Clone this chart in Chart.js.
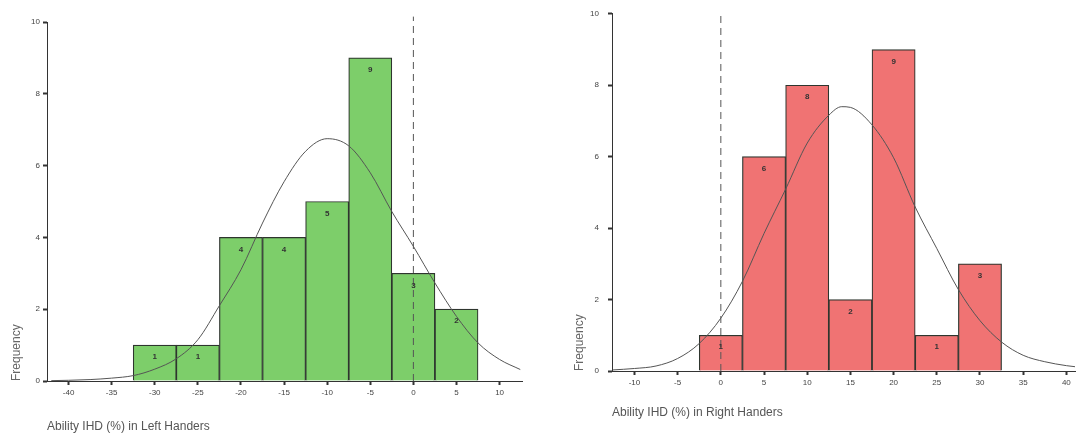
<!DOCTYPE html>
<html>
<head>
<meta charset="utf-8">
<script src="https://cdn.jsdelivr.net/npm/chart.js@4.4.1/dist/chart.umd.min.js"></script>
<style>
  body { margin: 0; background: #fff; }
  #wrap { position: relative; width: 1077px; height: 436px; }
  canvas { position: absolute; top: 0; }
  #left { left: 0; }
  #right { left: 540px; }
</style>
</head>
<body>
<div id="wrap">
  <canvas id="left" width="540" height="436"></canvas>
  <canvas id="right" width="537" height="436"></canvas>
</div>
<script>
// left handers: bin centres (%) and frequencies
const leftBins = [-30, -25, -20, -15, -10, -5, 0, 5];
const leftCounts = [1, 1, 4, 4, 5, 9, 3, 2];
// fitted normal curve
const leftCurveX = [-42, -40, -37.5, -35, -32.5, -30, -27.5, -25, -22.5, -20, -17.5, -15, -12.5, -10, -7.5, -5, -2.5, 0, 2.5, 5, 7.5, 10, 12.4];
const leftCurveY = [0.01, 0.02, 0.04, 0.08, 0.15, 0.33, 0.62, 1.15, 2.1, 3.1, 4.4, 5.55, 6.4, 6.75, 6.55, 5.8, 4.72, 3.75, 2.73, 1.8, 1.06, 0.6, 0.32];

// right handers
const rightBins = [0, 5, 10, 15, 20, 25, 30];
const rightCounts = [1, 6, 8, 2, 9, 1, 3];
const rightCurveX = [-12.5, -10, -7.5, -5, -2.5, 0, 2.5, 5, 7.5, 10, 12.5, 14, 15, 17.5, 20, 22.5, 25, 27.5, 30, 32.5, 35, 37.5, 40, 41];
const rightCurveY = [0.03, 0.07, 0.14, 0.35, 0.77, 1.48, 2.51, 3.85, 5.09, 6.38, 7.16, 7.4, 7.38, 6.89, 5.97, 4.59, 3.43, 2.28, 1.41, 0.81, 0.44, 0.26, 0.15, 0.12];

const yTicks = [0, 2, 4, 6, 8, 10];
const FONT = "'Liberation Sans', Arial, sans-serif";

// writes the count near the top of each bar
const barLabels = {
  id: "barLabels",
  afterDatasetsDraw(chart) {
    const ctx = chart.ctx;
    chart.data.datasets.forEach((ds, i) => {
      if (ds.type !== "bar") return;
      const meta = chart.getDatasetMeta(i);
      ctx.save();
      ctx.font = "bold 8px " + FONT;
      ctx.fillStyle = "#333";
      ctx.textAlign = "center";
      ctx.textBaseline = "middle";
      meta.data.forEach((bar, j) => {
        ctx.fillText(ds.data[j].y, bar.x, bar.y + 12);
      });
      ctx.restore();
    });
  }
};

function makeHist(id, bins, counts, curveX, curveY, o) {
  const ctx = document.getElementById(id).getContext("2d");
  return new Chart(ctx, {
    type: "bar",
    data: {
      datasets: [
        {
          type: "line",
          data: curveX.map((x, i) => ({ x: x, y: curveY[i] })),
          borderColor: "#555",
          borderWidth: 1,
          pointRadius: 0,
          cubicInterpolationMode: "monotone",
          order: 0
        },
        {
          type: "line",
          data: [{ x: 0, y: 0 }, { x: 0, y: o.dashTop }],
          borderColor: "#555",
          borderWidth: 1,
          borderDash: [7, 5],
          pointRadius: 0,
          clip: false,
          order: 0
        },
        {
          type: "bar",
          data: bins.map((b, i) => ({ x: b, y: counts[i] })),
          backgroundColor: o.fill,
          borderColor: "#2e352e",
          borderWidth: 1.2,
          barPercentage: 1,
          categoryPercentage: 1,
          order: 1
        }
      ]
    },
    options: {
      responsive: false,
      animation: false,
      layout: { padding: o.padding },
      plugins: { legend: { display: false }, tooltip: { enabled: false } },
      scales: {
        x: {
          type: "linear",
          offset: false,
          min: o.xMin,
          max: o.xMax,
          afterFit: s => { s.height = o.xHeight; },
          border: { display: true, color: "#333", width: 1 },
          grid: { drawOnChartArea: false, offset: false, tickLength: 4, tickWidth: 2, tickColor: "#333" },
          ticks: {
            stepSize: 5, includeBounds: false, autoSkip: false, maxRotation: 0, padding: 3,
            color: "#444", font: { family: FONT, size: 8 }
          },
          title: {
            display: true, text: o.xTitle, align: "start", color: "#555",
            font: { family: FONT, size: 12 }, padding: { top: 0, bottom: o.xTitlePad }
          }
        },
        y: {
          min: 0,
          max: 10,
          afterFit: s => { s.width = 40; },
          afterBuildTicks: s => { s.ticks = yTicks.map(v => ({ value: v })); },
          border: { display: true, color: "#333", width: 1 },
          grid: { drawOnChartArea: false, tickLength: 4, tickWidth: 2, tickColor: "#333" },
          ticks: { padding: o.yTickPad, color: "#444", font: { family: FONT, size: 8 } },
          title: {
            display: true, text: "Frequency", align: "start", color: "#666",
            font: { family: FONT, size: 12 }, padding: { top: o.yTitlePad, bottom: 0 }
          }
        }
      }
    },
    plugins: [barLabels]
  });
}

makeHist("left", leftBins, leftCounts, leftCurveX, leftCurveY, {
  fill: "#7dce6a",
  dashTop: 10.15,
  xMin: -42.5, xMax: 12.6,
  padding: { left: 7, top: 22, right: 18, bottom: 0 },
  xHeight: 55, xTitlePad: 2, yTitlePad: 2, yTickPad: 3,
  xTitle: "Ability IHD (%) in Left Handers"
});

makeHist("right", rightBins, rightCounts, rightCurveX, rightCurveY, {
  fill: "#f07373",
  dashTop: 10,
  xMin: -12.6, xMax: 41,
  padding: { left: 32, top: 9, right: 2, bottom: 0 },
  xHeight: 65, xTitlePad: 16, yTitlePad: 0, yTickPad: 9,
  xTitle: "Ability IHD (%) in Right Handers"
});
</script>
</body>
</html>
